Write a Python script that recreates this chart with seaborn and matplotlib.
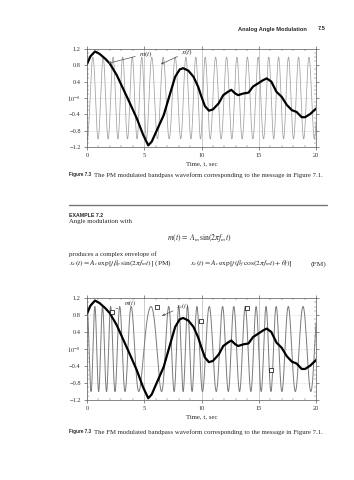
import numpy as np
import pandas as pd
import matplotlib
matplotlib.use('Agg')
import matplotlib.pyplot as plt
from matplotlib.ticker import MultipleLocator
import seaborn as sns

# message m(t) (same message in both figures)
msg_t = [0, 0.3, 0.7, 1.1, 1.6, 2.0, 2.6, 3.2, 3.75, 4.35, 4.9, 5.35, 5.65, 6.1,
         6.7, 7.25, 7.7, 8.1, 8.4, 8.85, 9.3, 9.7, 10.0, 10.3, 10.65, 11.0, 11.5,
         11.9, 12.3, 12.6, 12.95, 13.2, 13.65, 14.1, 14.5, 14.95, 15.4, 15.7,
         16.1, 16.55, 17.0, 17.45, 17.9, 18.3, 18.75, 19.05, 19.5, 20.0]
msg_v = [0.83, 1.02, 1.14, 1.08, 0.96, 0.84, 0.56, 0.2, -0.13, -0.5, -0.9, -1.16,
         -1.07, -0.79, -0.42, 0.1, 0.52, 0.7, 0.73, 0.67, 0.52, 0.28, 0.03, -0.2,
         -0.31, -0.28, -0.13, 0.07, 0.15, 0.2, 0.11, 0.07, 0.11, 0.13, 0.28, 0.36,
         0.44, 0.48, 0.40, 0.15, 0.03, -0.17, -0.30, -0.34, -0.47, -0.47, -0.39, -0.26]

# carrier settings (counted from the cycles in each plot)
pm_fc = 1.1       # Hz
pm_beta = -1.0    # rad per unit m
pm_phi = -2.45
fm_fc = 0.95      # Hz
fm_dev = 0.5      # Hz per unit m

# square markers on the FM plot
sq_t = [2.15, 6.08, 9.96, 13.95, 16.05]
sq_v = [0.88, 0.98, 0.66, 0.96, -0.49]

x_ticks = [0, 5, 10, 15, 20]
y_ticks = [-1.2, -0.8, -0.4, 0.0, 0.4, 0.8, 1.2]
y_labels = ['\u22121.2', '\u22120.8', '\u22120.4', '$10^{-8}$', '0.4', '0.8', '1.2']

sns.set_theme(style='ticks')
plt.rcParams['font.family'] = ['Liberation Serif', 'DejaVu Serif']
plt.rcParams['mathtext.fontset'] = 'stix'

W, H = 354, 480
fig = plt.figure(figsize=(W / 100, H / 100), dpi=100)


def px(x, y):
    return x / W, 1 - y / H


t = np.linspace(0, 20, 4001)
m = np.interp(t, msg_t, msg_v)
x_pm = np.cos(2 * np.pi * pm_fc * t + pm_beta * m + pm_phi)
integ = np.concatenate([[0], np.cumsum((m[1:] + m[:-1]) / 2 * np.diff(t))])
x_fm = np.cos(2 * np.pi * fm_fc * t + 2 * np.pi * fm_dev * integ)
msg = pd.DataFrame({'t': msg_t, 'm': msg_v})


def style_axes(ax):
    ax.set_xlim(0, 20)
    ax.set_ylim(-1.2, 1.2)
    ax.set_xticks(x_ticks)
    ax.set_yticks(y_ticks)
    ax.set_yticklabels(y_labels)
    ax.xaxis.set_minor_locator(MultipleLocator(1))
    ax.yaxis.set_minor_locator(MultipleLocator(0.1))
    ax.tick_params(which='major', direction='out', length=2.5, width=0.4,
                   labelsize=4.6, pad=2, top=True, right=True, colors='#333333')
    ax.tick_params(which='minor', direction='in', length=1.3, width=0.3,
                   top=True, right=True, color='#555555')
    for yv in [-0.8, -0.4, 0.0, 0.4, 0.8]:
        ax.axhline(yv, color='#b0b0b0', lw=0.4, ls=':', zorder=0)
    for xv in [5, 10, 15]:
        ax.axvline(xv, color='#b8b8b8', lw=0.5, zorder=0)
    for s in ax.spines.values():
        s.set_linewidth(0.5)
        s.set_color('#555555')
    ax.set_xlabel('Time, t, sec', fontsize=4.9, labelpad=2)
    ax.set_ylabel('')


# ---- top plot (PM) ----
ax1 = fig.add_axes([87 / W, 1 - 147 / H, (316 - 87) / W, 98 / H])
sns.lineplot(x=t, y=x_pm, ax=ax1, color='#a0a0a0', linewidth=0.55,
             estimator=None, sort=False)
sns.lineplot(data=msg, x='t', y='m', ax=ax1, color='black', linewidth=1.6,
             estimator=None, sort=False)
style_axes(ax1)
arr = dict(arrowstyle='->', lw=0.45, color='#444444', shrinkA=0, shrinkB=0,
           mutation_scale=4)
ax1.annotate('$m(t)$', xy=(1.86, 0.85), xytext=(4.5, 1.08), fontsize=5.2,
             arrowprops=arr, va='center')
ax1.annotate('$x(t)$', xy=(6.46, 0.83), xytext=(8.2, 1.12), fontsize=5.2,
             arrowprops=arr, va='center')

# ---- bottom plot (FM) ----
ax2 = fig.add_axes([87 / W, 1 - 400 / H, (316 - 87) / W, 102 / H])
sns.lineplot(x=t, y=x_fm, ax=ax2, color='#7a7a7a', linewidth=0.7,
             estimator=None, sort=False)
sns.lineplot(data=msg, x='t', y='m', ax=ax2, color='black', linewidth=1.6,
             estimator=None, sort=False)
sns.scatterplot(x=sq_t, y=sq_v, ax=ax2, marker='s', s=7, facecolor='white',
                edgecolor='black', linewidth=0.5, zorder=5)
style_axes(ax2)
ax2.annotate('$m(t)$', xy=(2.3, 0.92), xytext=(3.2, 1.07), fontsize=4.6,
             arrowprops=dict(arrowstyle='-', lw=0.45, color='#444444'), va='center')
ax2.annotate('$x_c(t)$', xy=(6.55, 0.78), xytext=(7.8, 1.0), fontsize=4.6,
             arrowprops=arr, va='center')

# ---- page text ----
sans = ['Liberation Sans', 'DejaVu Sans']
fs = 4.9
fig.text(*px(307, 29), 'Analog Angle Modulation', ha='right', va='center',
         fontsize=4.1, weight='bold', family=sans)
fig.text(*px(326, 29), '7.5', ha='right', va='center', fontsize=4.1,
         weight='bold', family=sans)

for ycap, cap in [(175, 'The PM modulated bandpass waveform corresponding to the message in Figure 7.1.'),
                  (432, 'The FM modulated bandpass waveform corresponding to the message in Figure 7.1.')]:
    fig.text(*px(69, ycap), 'Figure 7.3', ha='left', va='center', fontsize=3.3,
             weight='bold', family=sans)
    fig.text(*px(94, ycap), cap, ha='left', va='center', fontsize=fs)

fig.add_artist(plt.Line2D([69 / W, 327 / W], [1 - 205 / H] * 2, color='#777777',
                          lw=1.0, transform=fig.transFigure))
fig.text(*px(69, 215), 'EXAMPLE 7.2', ha='left', va='center', fontsize=3.8,
         weight='bold', family=sans)
fig.text(*px(69, 222), 'Angle modulation with', ha='left', va='center', fontsize=fs)
fig.text(*px(199, 238), r'$m(t)\,=\,A_m\,\sin(2\pi f_m t)$', ha='center',
         va='center', fontsize=5.6)
fig.text(*px(69, 254), 'produces a complex envelope of', ha='left', va='center',
         fontsize=fs)
fig.text(*px(69, 264), r'$x_c(t)=A_c\,\exp[j\beta_p\,\sin(2\pi f_m t)]$ (PM)',
         ha='left', va='center', fontsize=5.4)
fig.text(*px(190, 264), r'$x_c(t)=A_c\,\exp[j(\beta_f\,\cos(2\pi f_m t)+\theta_f)]$',
         ha='left', va='center', fontsize=5.4)
fig.text(*px(326, 264), '(FM)', ha='right', va='center', fontsize=5.4)

fig.savefig('out.png', dpi=100, facecolor='white')
